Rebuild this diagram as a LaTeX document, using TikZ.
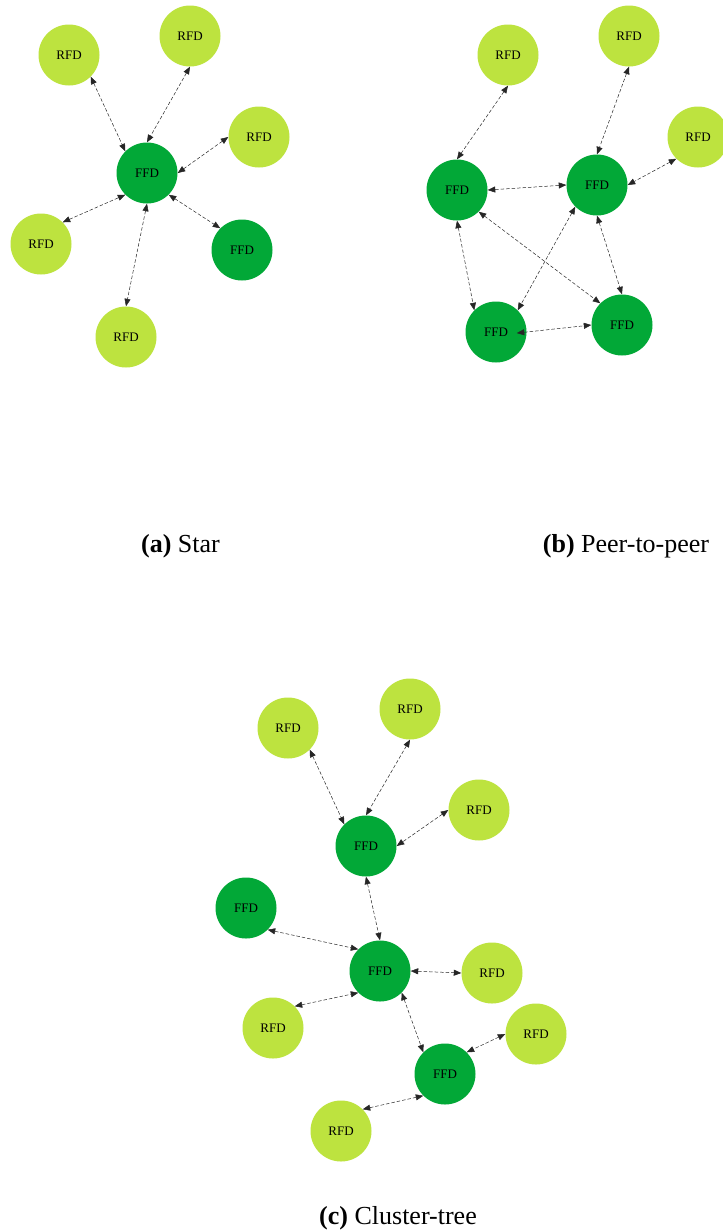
\documentclass[tikz,border=0pt]{standalone}
\usepackage{fontspec}
\setmainfont{Liberation Serif}
\usetikzlibrary{arrows.meta}
\definecolor{rfdc}{HTML}{BDE33F}
\definecolor{ffdc}{HTML}{02A837}
\begin{document}
\begin{tikzpicture}[x=1pt,y=-1pt,
  dev/.style={circle,minimum size=61pt,inner sep=0pt,font=\fontsize{13}{15}\selectfont},
  rfd/.style={dev,fill=rfdc},
  ffd/.style={dev,fill=ffdc},
  link/.style={{Triangle[length=7.5pt,width=6pt]}-{Triangle[length=7.5pt,width=6pt]},dash pattern=on 3.5pt off 2pt,line width=0.5pt,draw=black!85},
  subcap/.style={anchor=base,font=\fontsize{26}{30}\selectfont,inner sep=0pt}
]
\clip (0,0) rectangle (723,1232);
\fill[white] (0,0) rectangle (723,1232);

% (a) Star
\node[rfd] (a1) at (69,55) {RFD};
\node[rfd] (a2) at (190,36) {RFD};
\node[rfd] (a3) at (259,137) {RFD};
\node[ffd] (a0) at (147,173) {FFD};
\node[rfd] (a4) at (41,244) {RFD};
\node[ffd] (a5) at (242,250) {FFD};
\node[rfd] (a6) at (126,337) {RFD};
\draw[link] (a1.south east) -- (a0.north west);
\draw[link] (a2.south) -- (a0.north);
\draw[link] (a3.west) -- (a0.east);
\draw[link] (a4.north east) -- (a0.south west);
\draw[link] (a0.south east) -- (a5.north west);
\draw[link] (a0.south) -- (a6.north);
\node[subcap] (capa) at (180.5,552) {\textbf{(a)} Star};

% (b) Peer-to-peer
\node[rfd] (b1) at (508,55) {RFD};
\node[rfd] (b2) at (629,36) {RFD};
\node[rfd] (b3) at (698,137) {RFD};
\node[ffd] (b4) at (457,190) {FFD};
\node[ffd] (b5) at (597,185) {FFD};
\node[ffd] (b6) at (496,332) {FFD};
\node[ffd] (b7) at (622,325) {FFD};
\draw[link] (b1.south) -- (b4.north);
\draw[link] (b2.south) -- (b5.north);
\draw[link] (b3.south west) -- (b5.east);
\draw[link] (b4.east) -- (b5.west);
\draw[link] (b4.south) -- (b6.north west);
\draw[link] (b4.south east) -- (b7.north west);
\draw[link] (b5.south west) -- (b6.north east);
\draw[link] (b5.south) -- (b7.north);
\draw[link,shorten <=-10pt] (b6.east) -- (b7.west);
\node[subcap] (capb) at (626,552) {\textbf{(b)} Peer-to-peer};

% (c) Cluster-tree
\node[rfd] (c1) at (288,728) {RFD};
\node[rfd] (c2) at (410,709) {RFD};
\node[rfd] (c3) at (479,810) {RFD};
\node[ffd] (c4) at (366,846) {FFD};
\node[ffd] (c5) at (246,908) {FFD};
\node[ffd] (c6) at (380,971) {FFD};
\node[rfd] (c7) at (492,973) {RFD};
\node[rfd] (c8) at (273,1028) {RFD};
\node[rfd] (c9) at (536,1034) {RFD};
\node[ffd] (c10) at (445,1074) {FFD};
\node[rfd] (c11) at (341,1131) {RFD};
\draw[link] (c1.south east) -- (c4.north west);
\draw[link] (c2.south) -- (c4.north);
\draw[link] (c3.west) -- (c4.east);
\draw[link] (c4.south) -- (c6.north);
\draw[link] (c5.south east) -- (c6.north west);
\draw[link] (c6.east) -- (c7.west);
\draw[link] (c8.north east) -- (c6.south west);
\draw[link] (c6.south east) -- (c10.north west);
\draw[link] (c9.west) -- (c10.north east);
\draw[link] (c11.north east) -- (c10.south west);
\node[subcap] (capc) at (398,1224) {\textbf{(c)} Cluster-tree};
\end{tikzpicture}
\end{document}
